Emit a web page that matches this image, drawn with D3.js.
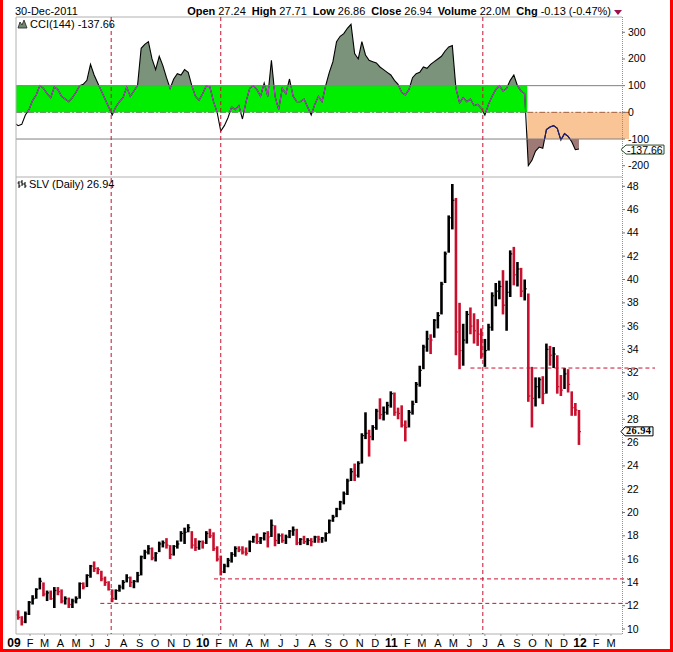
<!DOCTYPE html>
<html><head><meta charset="utf-8">
<script src="https://cdn.jsdelivr.net/npm/d3@7"></script>
<style>body{margin:0;background:#fff}svg{display:block}text{font-family:"Liberation Sans",Arial,sans-serif}</style>
</head><body>
<svg id="chart" width="673" height="652"></svg>
<script>
// ---------- DATA (weekly) ----------
const weekHigh = [
 11.4,11.6,11.1,11.5,12.4, 12.9,13.5,14.4,14.0, 13.3,13.3,13.6,13.6, 13.4,12.8,12.7,12.6,
 12.8,14.0,14.0,14.7,15.5, 15.8,15.3,15.0,14.5, 14.1,13.4,13.4,13.8,14.2, 14.7,14.5,14.2,14.9,
 16.3,16.8,17.2,17.0, 16.6,17.5,17.6,17.8,17.2, 17.2,17.6,18.4,18.7, 19.0,18.4,17.8,17.6,
 17.6,18.4,18.6,18.3,17.1, 16.3,15.6,16.1,16.6, 17.1,17.1,17.1,17.0, 17.6,18.0,18.2,17.9,18.3,
 18.4,19.4,18.9,18.2, 18.2,18.1,18.5,18.8, 18.6,17.8,18.0,17.8,17.8, 18.0,18.0,17.9,18.3,
 19.4,19.8,20.4,21.0, 21.8,22.9,23.8,24.2,24.4, 26.8,28.6,27.1,27.5, 28.9,29.8,29.1,29.5,30.4,
 30.3,29.0,29.2,27.9, 28.8,29.6,31.2,32.6, 34.4,35.6,35.3,36.6, 37.2,39.8,42.4,45.5,48.2,
 47.0,38.0,36.2,37.3, 37.6,37.1,36.6,35.8, 34.9,36.2,38.9,39.7,39.9, 40.8,39.9,42.5,42.8,
 41.5,41.0,40.0,38.8,32.5, 31.6,31.6,31.7,34.5, 34.3,34.2,33.5,31.8, 32.4,32.3,30.4,29.4,28.8
];
const weekLow = [
 10.9,10.8,10.3,10.5,11.2, 12.1,12.6,13.4,12.8, 12.4,12.5,11.8,12.9, 12.2,12.1,11.8,11.8,
 12.2,12.6,13.4,13.6,14.4, 14.9,14.7,14.1,13.7, 13.3,12.3,12.5,13.2,13.4, 14.0,13.6,13.5,14.0,
 14.6,16.0,16.4,15.9, 15.8,16.6,17.0,16.9,16.0, 16.3,16.9,17.5,17.3, 18.3,16.9,16.7,16.8,
 16.9,17.3,17.8,16.7,15.8, 14.6,14.8,15.3,15.7, 16.2,16.6,16.4,16.3, 16.6,17.4,17.3,17.3,17.6,
 17.0,17.9,17.1,17.3, 17.4,17.3,17.8,18.0, 17.2,17.2,17.3,17.2,17.1, 17.4,17.4,17.4,17.5,
 18.2,19.2,19.6,20.2, 20.7,21.5,22.7,22.7,23.0, 24.2,26.3,24.8,26.2, 27.1,28.0,27.9,28.4,29.0,
 28.3,28.0,27.3,26.1, 27.3,28.4,29.4,30.8, 32.3,33.8,33.6,35.0, 35.8,37.0,39.7,42.3,44.3,
 33.5,32.3,32.6,34.5, 35.3,34.5,34.3,33.2, 32.5,33.9,35.6,37.7,38.3, 37.0,35.6,38.5,39.5,
 39.4,38.5,38.2,29.5,27.3, 29.1,29.8,29.3,30.2, 32.6,32.4,30.2,30.0, 30.6,30.3,28.3,28.3,25.8
];
const weekClose = [
 11.2,11.0,10.6,11.3,12.3, 12.6,13.4,14.1,13.0, 13.1,12.6,13.3,13.2, 12.4,12.6,12.1,12.4,
 12.6,13.9,13.6,14.6,15.4, 15.2,15.1,14.3,14.0, 13.4,12.6,13.3,13.6,14.0, 14.4,14.0,14.1,14.6,
 16.2,16.6,16.9,16.1, 16.5,17.3,17.4,17.2,16.4, 17.1,17.3,18.2,18.3, 18.7,17.2,17.0,17.5,
 17.4,18.2,18.0,16.9,16.0, 14.9,15.4,15.9,16.4, 16.9,16.8,16.6,16.5, 17.5,17.9,17.5,17.8,18.2,
 17.9,18.9,17.6,18.0, 17.6,17.9,18.4,18.5, 17.4,17.7,17.5,17.6,17.5, 17.9,17.7,17.8,18.2,
 19.3,19.6,20.3,20.9, 21.6,22.7,23.5,23.2,24.2, 26.6,26.8,26.5,27.3, 28.7,28.4,28.6,29.2,30.2,
 28.6,28.5,27.5,27.3, 28.6,29.3,31.0,32.2, 34.2,34.9,34.8,36.5, 36.9,39.6,42.2,45.3,46.8,
 35.5,33.9,34.8,37.0, 36.0,35.6,35.3,33.6, 33.9,35.9,38.6,39.0,39.4, 37.8,38.9,42.2,40.4,
 40.9,39.0,39.2,30.0,29.8, 30.8,31.4,30.2,34.0, 33.5,33.6,30.8,30.5, 31.9,31.0,29.0,28.8,26.94
];
const cciValues = [
 -40,-50,-45,-10,10,45,65,100,90,70,
 55,95,85,60,50,40,55,75,100,105,
 120,180,140,110,80,50,20,-10,20,40,
 55,95,60,80,100,240,255,265,200,160,
 210,175,130,90,125,145,140,160,150,100,
 60,45,70,100,95,40,0,-70,-50,-20,
 20,10,25,-25,40,90,100,85,60,110,
 60,195,60,10,90,70,125,60,40,40,
 50,20,-10,30,60,40,100,150,190,265,
 285,295,315,330,220,200,265,215,195,190,
 185,170,160,150,140,120,105,75,65,85,
 130,145,150,170,165,180,190,200,210,230,
 245,250,90,35,55,40,50,25,30,15,
 -10,30,60,85,100,80,90,120,140,100,
 80,70,-200,-180,-145,-130,-135,-65,-55,-50,
 -60,-104,-80,-90,-110,-140,-137.66
];
const monthLabels = ["09","F","M","A","M","J","J","A","S","O","N","D",
 "10","F","M","A","M","J","J","A","S","O","N","D",
 "11","F","M","A","M","J","J","A","S","O","N","D","12","F","M"];
const priceTicks = [10,12,14,16,18,20,22,24,26,28,30,32,34,36,38,40,42,44,46,48];
const cciTicks = [300,200,100,0,-100,-200];
const vLineDates = ["2009-07-08","2010-02-05","2011-06-27"];
const hLines = [ {price:32.4, from:"2011-06-03", ext:true}, {price:14.3, from:"2010-01-23", ext:false}, {price:12.2, from:"2009-06-17", ext:false} ];
const bandSwitchDate = "2011-09-21";
const headerKeys = ["Open","High","Low","Close","Volume","Chg"];
const headerVals = ["27.24","27.71","26.86","26.94","22.0M","-0.13 (-0.47%)"];
const lastCCI = -137.66, lastPrice = 26.94;

// ---------- LAYOUT ----------
const svg = d3.select("#chart");
const L = 16, R = 622;
const cciTop = 17, cciBot = 177, pTop = 177, pBot = 634;
const parse = d3.timeParse("%Y-%m-%d");
const weekDates = d3.timeFriday.range(new Date(2009,0,1), new Date(2011,11,31));
const x = d3.scaleTime().domain([new Date(2009,0,1), new Date(2012,0,1)]).range([14, 580]);
const yC = d3.scaleLinear().domain([-200, 300]).range([165.7, 32.3]);
const yP = d3.scaleLinear().domain([10, 48]).range([629, 186.3]);
const red = "#c8102e";
const axFont = 10.5;

const defs = svg.append("defs");
defs.append("clipPath").attr("id","cciClip").append("rect").attr("x",L).attr("y",cciTop).attr("width",R-L).attr("height",cciBot-cciTop);
defs.append("clipPath").attr("id","aboveClip").append("rect").attr("x",L).attr("y",cciTop).attr("width",R-L).attr("height",yC(100)-cciTop);
defs.append("clipPath").attr("id","belowClip").append("rect").attr("x",L).attr("y",yC(-100)).attr("width",R-L).attr("height",cciBot-yC(-100));
const xs = x(parse(bandSwitchDate));
defs.append("clipPath").attr("id","greenClip").append("rect").attr("x",L).attr("y",yC(100)).attr("width",xs-L).attr("height",yC(0)-yC(100));
defs.append("clipPath").attr("id","orangeClip").append("rect").attr("x",xs).attr("y",yC(0)).attr("width",R-xs).attr("height",yC(-100)-yC(0));
defs.append("clipPath").attr("id","priceClip").append("rect").attr("x",L).attr("y",pTop).attr("width",R-L).attr("height",pBot-pTop);

// ---------- CCI PANEL ----------
svg.append("rect").attr("x",L).attr("y",yC(100)).attr("width",xs-L).attr("height",yC(0)-yC(100)).attr("fill","#00ee00");
svg.append("rect").attr("x",xs).attr("y",yC(0)).attr("width",629-xs).attr("height",yC(-100)-yC(0)).attr("fill","#f9c596");

const cciData = cciValues.map((v,i)=>({d:weekDates[i], v}));
const areaUp = d3.area().x(d=>x(d.d)).y0(yC(100)).y1(d=>yC(d.v));
const areaDn = d3.area().x(d=>x(d.d)).y0(yC(-100)).y1(d=>yC(d.v));
const cciLine = d3.line().x(d=>x(d.d)).y(d=>yC(d.v));
const cg = svg.append("g").attr("clip-path","url(#cciClip)");
cg.append("path").datum(cciData).attr("d",areaUp).attr("fill","#7c937b").attr("clip-path","url(#aboveClip)");
cg.append("path").datum(cciData).attr("d",areaDn).attr("fill","#9e7a77").attr("clip-path","url(#belowClip)");

svg.append("line").attr("x1",L).attr("x2",R).attr("y1",yC(100)).attr("y2",yC(100)).attr("stroke","#808080").attr("stroke-width",1);
svg.append("line").attr("x1",L).attr("x2",R).attr("y1",yC(-100)).attr("y2",yC(-100)).attr("stroke","#808080").attr("stroke-width",1);
svg.append("line").attr("x1",L).attr("x2",xs).attr("y1",yC(0)).attr("y2",yC(0)).attr("stroke","#5e8a5e").attr("stroke-dasharray","6,2,2,2");
svg.append("line").attr("x1",xs).attr("x2",629).attr("y1",yC(0)).attr("y2",yC(0)).attr("stroke","#a0603a").attr("stroke-dasharray","6,2,2,2");

cg.append("path").datum(cciData).attr("d",cciLine).attr("fill","none").attr("stroke","#000").attr("stroke-width",1.1);
svg.append("path").datum(cciData).attr("d",cciLine).attr("fill","none").attr("stroke","#b048c0").attr("stroke-width",1.1).attr("clip-path","url(#greenClip)");
svg.append("path").datum(cciData).attr("d",cciLine).attr("fill","none").attr("stroke","#202080").attr("stroke-width",1.1).attr("clip-path","url(#orangeClip)");

// ---------- PRICE PANEL ----------
const barColor = (d,i)=> i>0 && weekClose[i] < weekClose[i-1] ? red : "#000";
const pg = svg.append("g").attr("clip-path","url(#priceClip)");
pg.selectAll("line.bar").data(weekDates).join("line").attr("class","bar")
  .attr("x1",d=>x(d)).attr("x2",d=>x(d))
  .attr("y1",(d,i)=>yP(weekHigh[i])).attr("y2",(d,i)=>yP(weekLow[i]))
  .attr("stroke",barColor).attr("stroke-width",2.6);
pg.selectAll("line.cls").data(weekDates).join("line").attr("class","cls")
  .attr("x1",d=>x(d)).attr("x2",d=>x(d)+2)
  .attr("y1",(d,i)=>yP(weekClose[i])).attr("y2",(d,i)=>yP(weekClose[i]))
  .attr("stroke",barColor).attr("stroke-width",1.2);

// ---------- FRAMES & AXES ----------
const frame = svg.append("g").attr("fill","none").attr("stroke","#b0b0b0");
frame.append("line").attr("x1",L).attr("x2",R).attr("y1",cciTop).attr("y2",cciTop);
frame.append("line").attr("x1",L).attr("x2",R).attr("y1",cciBot).attr("y2",cciBot);
frame.append("line").attr("x1",L).attr("x2",R).attr("y1",pBot).attr("y2",pBot);
frame.append("line").attr("x1",L).attr("x2",L).attr("y1",cciTop).attr("y2",pBot);
svg.append("line").attr("x1",R+0.5).attr("x2",R+0.5).attr("y1",cciTop).attr("y2",pBot).attr("stroke","#909090").attr("stroke-dasharray","1,1");

const axC = svg.append("g");
cciTicks.forEach(t=>{
  axC.append("line").attr("x1",R).attr("x2",R+3).attr("y1",yC(t)).attr("y2",yC(t)).attr("stroke","#777");
  axC.append("text").attr("x",R+6).attr("y",yC(t)+3.5).attr("font-size",axFont).text(t);
});
const axP = svg.append("g");
priceTicks.forEach(t=>{
  axP.append("line").attr("x1",R).attr("x2",R+3).attr("y1",yP(t)).attr("y2",yP(t)).attr("stroke","#777");
  axP.append("text").attr("x",R+5).attr("y",yP(t)+3.5).attr("font-size",axFont).text(t);
});
const months = d3.timeMonth.range(new Date(2009,0,1), new Date(2012,3,1));
const axX = svg.append("g");
months.forEach((m,i)=>{
  const lab = monthLabels[i];
  if (x(m) > L) axX.append("line").attr("x1",x(m)).attr("x2",x(m)).attr("y1",pBot).attr("y2",pBot+2).attr("stroke","#999");
  axX.append("text").attr("x",x(m)).attr("y",647).attr("text-anchor","middle")
    .attr("font-size",lab.length>1?12:11).attr("font-weight",lab.length>1?"bold":"normal").text(lab);
});

// ---------- ANNOTATIONS ----------
vLineDates.forEach(s=>{
  svg.append("line").attr("x1",x(parse(s))).attr("x2",x(parse(s))).attr("y1",cciTop).attr("y2",pBot)
    .attr("stroke",red).attr("stroke-width",1).attr("stroke-dasharray","4,3");
});
hLines.forEach(h=>{
  svg.append("line").attr("x1",x(parse(h.from))).attr("x2",h.ext?655:628).attr("y1",yP(h.price)).attr("y2",yP(h.price))
    .attr("stroke",red).attr("stroke-width",1).attr("stroke-dasharray","4,3");
});

// value tags
const cy = yC(lastCCI) + 0.5;
svg.append("path").attr("d",`M${R-1},${cy} L${R+4},${cy-4.5} L664,${cy-4.5} L664,${cy+4.5} L${R+4},${cy+4.5} Z`)
  .attr("fill","#fff").attr("stroke","#2a4a2a");
svg.append("text").attr("x",R+5).attr("y",cy+4).attr("font-size",10.5).text(lastCCI.toFixed(2));
const py = yP(lastPrice);
svg.append("path").attr("d",`M${R-1},${py} L${R+3},${py-4.8} L653,${py-4.8} L653,${py+4.2} L${R+3},${py+4.2} Z`)
  .attr("fill","#fff").attr("stroke","#000");
svg.append("text").attr("x",R+4).attr("y",py+2.7).attr("font-size",10.4).attr("font-weight","bold")
  .attr("letter-spacing",0.4)
  .style("font-family","'Liberation Serif','Times New Roman',serif").text(lastPrice.toFixed(2));

// ---------- TITLES ----------
svg.append("text").attr("x",15).attr("y",15).attr("font-size",11).text("30-Dec-2011");
const ht = svg.append("text").attr("x",611).attr("y",15).attr("text-anchor","end").attr("font-size",11);
headerKeys.forEach((k,i)=>{
  ht.append("tspan").attr("font-weight","bold").attr("dx", i ? 6 : 0).text(k);
  ht.append("tspan").attr("dx",3).text(headerVals[i]);
});
svg.append("path").attr("d","M614,10 L622,10 L618,15 Z").attr("fill","#a0104a");

// CCI panel label + icon
svg.append("path").attr("d","M18,28 L20,22 L22,25 L24,20 L27,28 Z").attr("fill","#6f8a6f").attr("stroke","#222").attr("stroke-width",0.8);
svg.append("text").attr("x",30).attr("y",28).attr("font-size",11).text("CCI(144) -137.66");
// price panel label + icon
const ic = svg.append("g").attr("stroke","#000").attr("stroke-width",1);
[[19,181,188],[22,180,186],[25,182,188]].forEach(([ix,a,b])=>{
  ic.append("line").attr("x1",ix).attr("x2",ix).attr("y1",a).attr("y2",b);
  ic.append("line").attr("x1",ix-1.5).attr("x2",ix).attr("y1",a+2).attr("y2",a+2);
  ic.append("line").attr("x1",ix).attr("x2",ix+1.5).attr("y1",b-2).attr("y2",b-2);
});
svg.append("text").attr("x",29).attr("y",188).attr("font-size",11).text("SLV (Daily) 26.94");

// red outer border
svg.append("rect").attr("x",0).attr("y",0).attr("width",3).attr("height",652).attr("fill","#f00");
svg.append("rect").attr("x",670).attr("y",0).attr("width",3).attr("height",652).attr("fill","#f00");
svg.append("rect").attr("x",0).attr("y",649).attr("width",673).attr("height",3).attr("fill","#f00");
</script>
</body></html>
